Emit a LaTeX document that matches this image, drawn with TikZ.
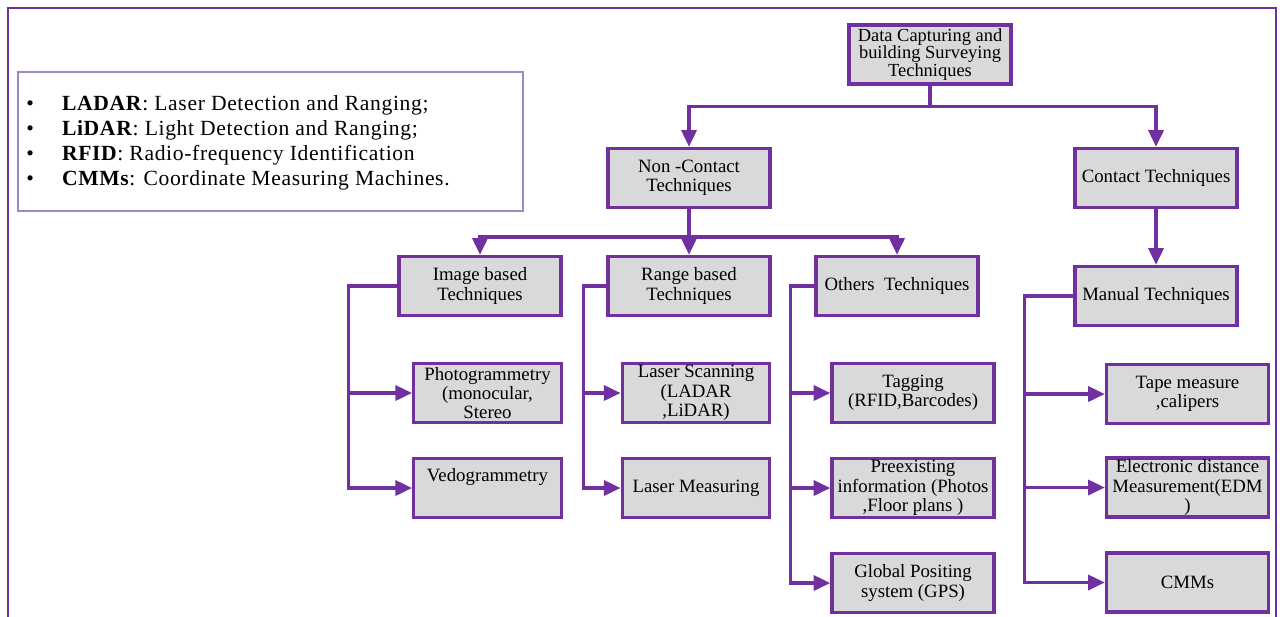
\documentclass[tikz,border=0pt]{standalone}
\usepackage{fontspec}
\setmainfont{Liberation Serif}
\usetikzlibrary{arrows.meta}
\definecolor{techpurple}{HTML}{7030A0}
\definecolor{boxgray}{HTML}{D9D9D9}
\definecolor{legendline}{HTML}{9E86C8}

\begin{document}
\begin{tikzpicture}[x=0.02cm,y=-0.02cm,
  box/.style={draw=techpurple,line width=1.9pt,fill=boxgray,align=center,
    minimum width=3.24cm,minimum height=1.18cm,inner xsep=2pt,inner ysep=0pt,
    font=\fontsize{10.7}{11}\selectfont},
  narrowbox/.style={box,minimum width=2.95cm},
  link/.style={draw=techpurple,line width=2pt,-{Triangle[length=9.5pt,width=8.5pt]}}]
 \useasboundingbox (0,0) rectangle (1280,616);
 \draw[draw=techpurple,line width=1.4pt] (8,8) rectangle (1276,640);
 % legend
 \node[draw=legendline,line width=0.8pt,minimum width=10.1cm,minimum height=2.78cm] (legend) at (270.5,141.5) {};
 \node[anchor=west,inner sep=0pt,font=\fontsize{12.3}{14.3}\selectfont\addfontfeatures{LetterSpace=3}] (legendtext) at (26,143) {%
  \begin{tabular}{@{}l@{\hspace{16pt}}l@{}}
   \textbullet & \textbf{LADAR}: Laser Detection and Ranging;\\
   \textbullet & \textbf{LiDAR}: Light Detection and Ranging;\\
   \textbullet & \textbf{RFID}: Radio-frequency Identification\\
   \textbullet & \textbf{CMMs}: Coordinate Measuring Machines.
  \end{tabular}};
 % levels 1 and 2
 \node[box,font=\fontsize{10.5}{9.8}\selectfont] (top) at (930,54.5) {Data Capturing and\\building Surveying\\Techniques};
 \node[box] (noncontact) at (689,178) {Non -Contact\\Techniques};
 \node[box] (contact) at (1156,178) {Contact Techniques};
 \node[box] (manual) at (1156,296) {Manual Techniques};
 % level 3
 \node[box] (image) at (480,286) {Image based\\Techniques};
 \node[box] (range) at (689,286) {Range based\\Techniques};
 \node[box] (others) at (897,286) {Others\ \ Techniques};
 % leaves
 \node[narrowbox] (photo) at (487.5,393) {Photogrammetry\\(monocular,\\Stereo};
 \node[narrowbox] (vedo) at (487.5,488) {Vedogrammetry\\\strut};
 \node[narrowbox] (laserscan) at (696,393) {Laser Scanning\\(LADAR\\,LiDAR)};
 \node[narrowbox] (lasermeas) at (696,488) {Laser Measuring};
 \node[box] (tagging) at (913,393) {Tagging\\(RFID,Barcodes)};
 \node[box] (preexist) at (913,488) {Preexisting\\information (Photos\\,Floor plans )};
 \node[box] (gps) at (913,583) {Global Positing\\system (GPS)};
 \node[box] (tape) at (1187.5,394) {Tape measure\\,calipers};
 \node[box] (edm) at (1187.5,487.5) {Electronic distance\\Measurement(EDM\\)};
 \node[box] (cmms) at (1187.5,582.5) {CMMs};
 % connectors
 \draw[link] (top.south) -- ++(0,21) -| (noncontact.north);
 \draw[link] (top.south) -- ++(0,21) -| (contact.north);
 \draw[link] (noncontact.south) -- ++(0,28) -| (image.north);
 \draw[link] (noncontact.south) -- ++(0,28) -| (others.north);
 \draw[link] (noncontact.south) -- (range.north);
 \draw[link] (contact.south) -- (manual.north);
 \draw[link] (image.west) -- ++(-49,0) |- (photo.west);
 \draw[link] (image.west) -- ++(-49,0) |- (vedo.west);
 \draw[link] (range.west) -- ++(-23,0) |- (laserscan.west);
 \draw[link] (range.west) -- ++(-23,0) |- (lasermeas.west);
 \draw[link] (others.west) -- ++(-24,0) |- (tagging.west);
 \draw[link] (others.west) -- ++(-24,0) |- (preexist.west);
 \draw[link] (others.west) -- ++(-24,0) |- (gps.west);
 \draw[link] (manual.west) -- ++(-49,0) |- (tape.west);
 \draw[link] (manual.west) -- ++(-49,0) |- (edm.west);
 \draw[link] (manual.west) -- ++(-49,0) |- (cmms.west);
\end{tikzpicture}
\end{document}
